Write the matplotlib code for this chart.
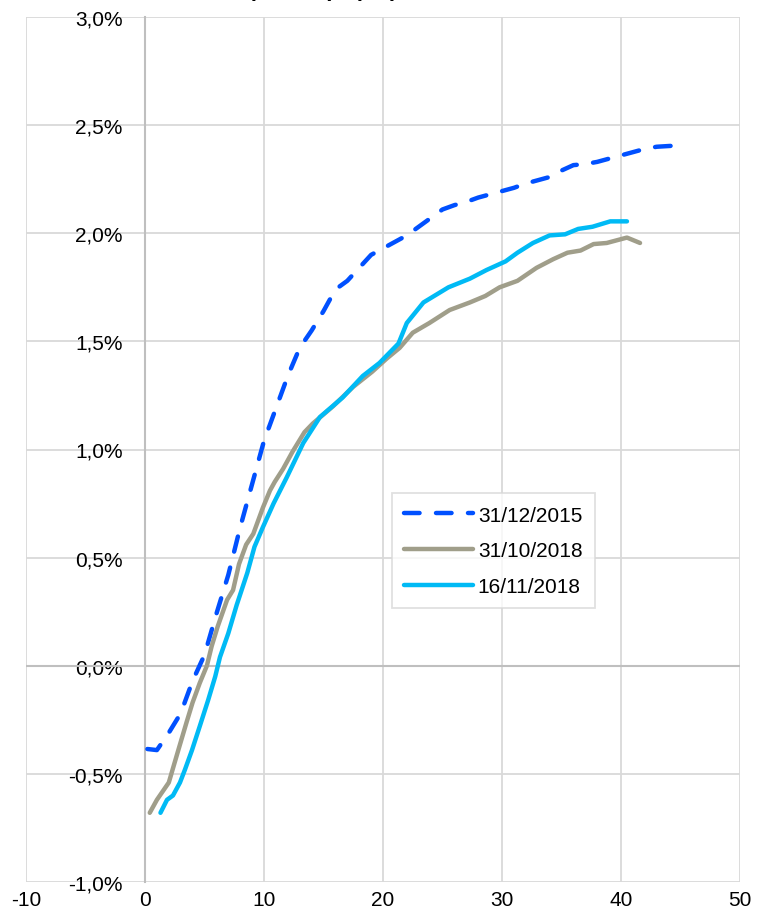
import matplotlib
matplotlib.use("Agg")
import matplotlib.pyplot as plt
from matplotlib.ticker import MultipleLocator, FuncFormatter

plt.rcParams['font.family'] = ['Liberation Sans', 'DejaVu Sans']
plt.rcParams['axes.unicode_minus'] = False

# Swap curves: maturity (years) vs rate (%)
mat_2015 = [0.2, 1, 2, 3, 4, 5, 6, 7, 8, 9, 10, 11, 12, 13, 14, 15, 16, 17, 18, 19,
            20, 21, 22, 23, 24, 25, 26, 27, 28, 29, 30, 31, 32, 33, 34, 35, 36, 37,
            38, 39, 40, 41, 42, 43, 44.5]
rate_2015 = [-0.385, -0.39, -0.31, -0.22, -0.07, 0.05, 0.24, 0.42, 0.64, 0.84, 1.04,
             1.19, 1.34, 1.47, 1.55, 1.64, 1.74, 1.78, 1.84, 1.90, 1.93, 1.96, 1.99,
             2.03, 2.07, 2.11, 2.13, 2.145, 2.165, 2.18, 2.195, 2.21, 2.23, 2.245,
             2.26, 2.29, 2.315, 2.32, 2.33, 2.345, 2.36, 2.375, 2.39, 2.40, 2.405]

mat_oct18 = [0.4, 1, 2, 2.8, 3.5, 4.0, 4.6, 5.2, 5.6, 6.1, 6.9, 7.4, 7.9, 8.5, 9.1, 9.9,
             10.5, 10.9, 11.6, 12.4, 13.4, 14.1, 15.8, 17.5, 19.1, 20.3, 21.4, 22.5,
             23.9, 25.6, 27.3, 28.6, 29.8, 31.3, 32.9, 34.3, 35.5, 36.6, 37.7, 38.8,
             40.5, 41.6]
rate_oct18 = [-0.68, -0.62, -0.54, -0.39, -0.26, -0.17, -0.08, 0.0, 0.09, 0.18, 0.305,
              0.35, 0.47, 0.56, 0.61, 0.73, 0.81, 0.85, 0.91, 0.99, 1.08, 1.12, 1.20,
              1.29, 1.36, 1.42, 1.47, 1.54, 1.585, 1.645, 1.68, 1.71, 1.75, 1.78, 1.84,
              1.88, 1.91, 1.92, 1.95, 1.955, 1.98, 1.955]

mat_nov18 = [1.3, 1.85, 2.35, 2.94, 3.36, 3.95, 4.6, 5.3, 5.9, 6.3, 7.0, 7.7, 8.6, 9.2,
             9.9, 10.8, 11.9, 13.3, 14.7, 16.6, 18.3, 19.7, 21.3, 22.0, 23.4, 25.5,
             27.3, 28.7, 30.3, 31.3, 32.6, 34.0, 35.3, 36.4, 37.6, 39.1, 40.5]
rate_nov18 = [-0.68, -0.62, -0.60, -0.54, -0.48, -0.39, -0.28, -0.16, -0.05, 0.04, 0.15,
              0.28, 0.43, 0.55, 0.64, 0.75, 0.87, 1.03, 1.15, 1.24, 1.34, 1.40, 1.49,
              1.585, 1.68, 1.75, 1.79, 1.83, 1.87, 1.91, 1.955, 1.99, 1.995, 2.02,
              2.03, 2.055, 2.055]

labels = ['31/12/2015', '31/10/2018', '16/11/2018']
colors = ['#0050FF', '#A09E8A', '#00BAF5']

FS = 15

fig = plt.figure(figsize=(7.57, 9.2), dpi=100)
ax = fig.add_axes([26 / 757, 37 / 920, 714 / 757, 865 / 920])

ax.plot(mat_2015, rate_2015, color=colors[0], lw=3.2, linestyle=(0, (3.5, 3.7)),
        dash_capstyle='round', solid_capstyle='round', label=labels[0], zorder=3)
ax.plot(mat_oct18, rate_oct18, color=colors[1], lw=3.2, solid_capstyle='round',
        solid_joinstyle='round', label=labels[1], zorder=3)
ax.plot(mat_nov18, rate_nov18, color=colors[2], lw=3.2, solid_capstyle='round',
        solid_joinstyle='round', label=labels[2], zorder=3)

ax.set_xlim(-10, 50)
ax.set_ylim(-1.0, 3.0)
ax.xaxis.set_major_locator(MultipleLocator(10))
ax.yaxis.set_major_locator(MultipleLocator(0.5))
ax.yaxis.set_major_formatter(FuncFormatter(lambda v, p: f"{v:.1f}%".replace('.', ',')))

ax.grid(True, color='#D9D9D9', lw=1.3, zorder=0)
ax.set_axisbelow(True)
for side in ['top', 'right', 'bottom']:
    ax.spines[side].set_visible(False)
ax.spines['left'].set_position(('data', 0))
ax.spines['left'].set_color('#BFBFBF')
ax.spines['left'].set_linewidth(1.5)
ax.axhline(0, color='#BFBFBF', lw=1.5, zorder=1)

ax.tick_params(axis='both', length=0, labelsize=FS, colors='black')
ax.tick_params(axis='y', pad=16)
ax.tick_params(axis='x', pad=6)

leg = ax.legend(loc='upper left', bbox_to_anchor=(0.5126, 0.4497), borderaxespad=0,
                fontsize=FS, frameon=True, fancybox=False, edgecolor='#D9D9D9',
                handlelength=3.27, handletextpad=0.25, labelspacing=0.8, borderpad=0.6)
leg.get_frame().set_linewidth(1.3)

fig.text(140 / 757, 1 + 4 / 920, 'Curva swap EUR (in pct)', fontsize=16,
         fontweight='bold', ha='left', va='baseline')

fig.savefig('out.png', dpi=100)
